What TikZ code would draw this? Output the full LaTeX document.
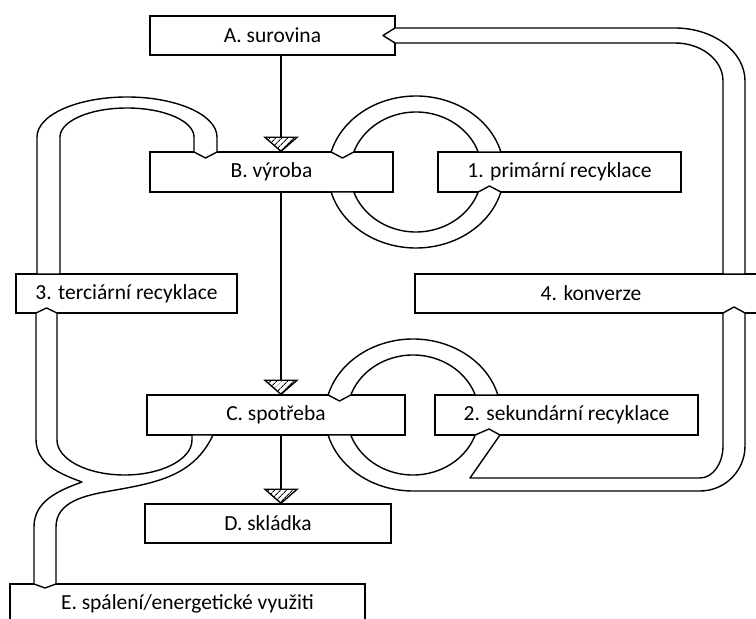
\documentclass[tikz,border=0pt]{standalone}
\usepackage{fontspec}
\setmainfont{Carlito}
\usepackage{tikz}
\usetikzlibrary{patterns.meta}

\begin{document}
\begin{tikzpicture}[x=1pt,y=1pt,line width=1.4pt,
  box/.style={draw,fill=white,inner sep=0pt,minimum height=40pt,font=\fontsize{21.5}{24}\selectfont},
  pipe/.style={draw,fill=white,line join=round},
  hatch/.style={preaction={fill=white},pattern={Lines[angle=45,distance=4pt,line width=1pt]}},
  funnel/.pic={\draw[hatch] (0,0) -- (-16,14) -- (16,14) -- cycle;}]
  \useasboundingbox (0,0) rectangle (756,619);
  \clip (0,0) rectangle (756,619);
  \node[box,minimum width=245pt,minimum height=39pt] (A) at (272.5,583.5) {A. surovina};
  \node[box,minimum width=243pt] (B) at (271.5,447) {B. výroba};
  \node[box,minimum width=243pt] (p1) at (559.5,447) {1. primární recyklace};
  \node[box,minimum width=221pt,minimum height=39pt] (p3) at (126.5,325.5) {3. terciární recyklace};
  \node[box,minimum width=352pt,minimum height=39pt] (p4) at (591,325.5) {4. konverze};
  \node[box,minimum width=258pt] (C) at (276,204) {C. spotřeba};
  \node[box,minimum width=263pt] (p2) at (566.5,204) {2. sekundární recyklace};
  \node[box,minimum width=246pt,minimum height=39pt] (D) at (268,95.5) {D. skládka};
  \node[box,minimum width=355pt] (E) at (187.5,15) {E. spálení/energetické využiti};
  \coordinate (axis) at (281,0);
  \draw (A.south -| axis) -- (B.north -| axis);
  \draw (B.south -| axis) -- (C.north -| axis);
  \draw (C.south -| axis) -- (D.north -| axis);
  \pic at (B.north -| axis) {funnel};
  \pic at (C.north -| axis) {funnel};
  \pic at (D.north -| axis) {funnel};
  \draw[pipe] (500.9,467) arc[start angle=15.26,end angle=164.74,x radius=88,y radius=76]
    -- (342.5,461) -- (353.8,467) arc[start angle=160.53,end angle=19.47,x radius=66,y radius=60] -- cycle;
  \draw[pipe] (331.1,427) arc[start angle=195.26,end angle=344.74,x radius=88,y radius=76]
    -- (489.5,433) -- (478.2,427) arc[start angle=340.53,end angle=199.47,x radius=66,y radius=60] -- cycle;
  \draw[pipe] (497.9,224) arc[start angle=15.26,end angle=164.74,x radius=88,y radius=76]
    -- (339.5,218) -- (350.8,224) arc[start angle=160.53,end angle=19.47,x radius=66,y radius=60] -- cycle;
  \draw[pipe] (328.1,184) arc[start angle=195.26,end angle=270,x radius=88,y radius=76]
    -- (700,128) arc[start angle=-90,end angle=0,radius=45] -- (745,306) -- (734,312) -- (723,306)
    -- (723,173) arc[start angle=0,end angle=-90,x radius=23,y radius=32] -- (470,141)
    -- (500,184) -- (489,190) -- (475.2,184) arc[start angle=340.53,end angle=199.47,x radius=66,y radius=60] -- cycle;
  \draw[pipe] (723,345) -- (723,538) arc[start angle=0,end angle=90,x radius=48,y radius=38]
    -- (395,576) -- (383,583.5) -- (395,591)
    -- (675,591) arc[start angle=90,end angle=0,x radius=70,y radius=53] -- (745,345) -- cycle;
  \draw[pipe] (37,345) -- (37,482) arc[start angle=180,end angle=0,x radius=90,y radius=40]
    -- (217,467) -- (205.5,461) -- (194,467)
    -- (194,482) arc[start angle=0,end angle=180,x radius=67,y radius=29] -- (60,345) -- cycle;
  \draw[pipe] (36,306) -- (36,180) to[out=-90,in=160] (82,137) to[out=200,in=90] (34,92)
    -- (34,35) -- (45,31) -- (56,35) -- (56,92) to[out=90,in=190] (110,128) to[out=10,in=-115] (213,184)
    -- (192,184) -- (192,179) arc[start angle=0,end angle=-180,x radius=67.5,y radius=35]
    -- (57,306) -- (46.5,311) -- cycle;
\end{tikzpicture}
\end{document}
